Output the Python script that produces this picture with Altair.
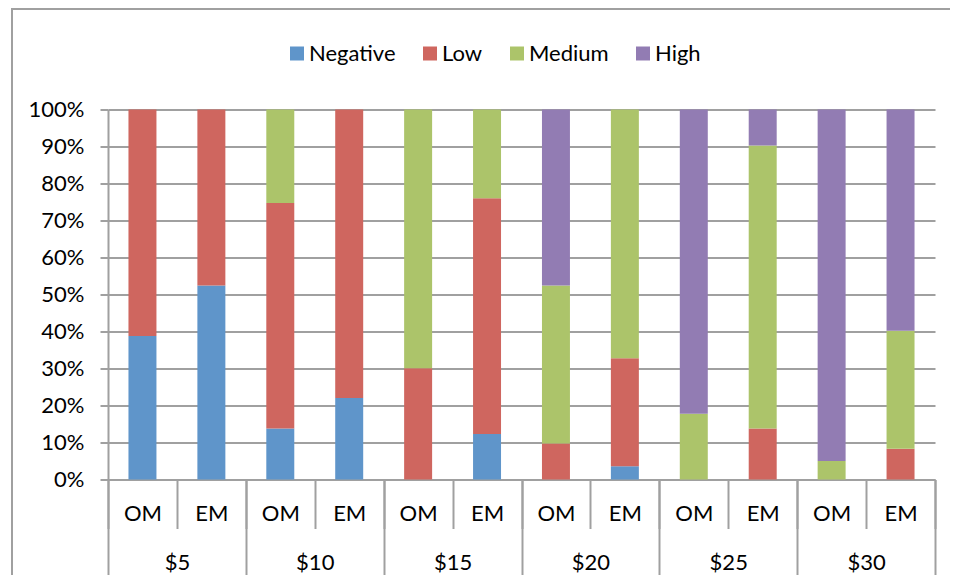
import altair as alt
import pandas as pd

groups = ["$5", "$10", "$15", "$20", "$25", "$30"]
methods = ["OM", "EM"]
levels = ["Negative", "Low", "Medium", "High"]
colors = ["#5F95CA", "#CF665F", "#ACC46A", "#927CB3"]

negative = [38.8, 52.4, 13.8, 22.0, 0, 12.3, 0, 3.6, 0, 0, 0, 0]
low = [61.2, 47.6, 60.9, 78.0, 30.1, 63.7, 9.7, 29.2, 0, 13.8, 0, 8.3]
medium = [0, 0, 25.3, 0, 69.9, 24.0, 42.7, 67.2, 17.8, 76.5, 5.0, 31.9]
high = [0, 0, 0, 0, 0, 0, 47.6, 0, 82.2, 9.7, 95.0, 59.8]

series = {"Negative": negative, "Low": low, "Medium": medium, "High": high}
keys = [f"{g} {m}" for g in groups for m in methods]

rows = []
for li, lev in enumerate(levels):
    for i, k in enumerate(keys):
        rows.append({"key": k, "group": groups[i // 2], "method": methods[i % 2],
                     "level": lev, "order": li, "value": series[lev][i]})
df = pd.DataFrame(rows)

W, H = 827, 370
GRAY = "#a0a0a0"
FONT = "Lato"
FS = 22

bars = alt.Chart(df).mark_bar().encode(
    x=alt.X("key:N", sort=keys, axis=None,
            scale=alt.Scale(paddingInner=0.594, paddingOuter=0.297)),
    y=alt.Y("value:Q", stack="normalize",
            scale=alt.Scale(domain=[0, 1]),
            axis=alt.Axis(values=[i / 10 for i in range(11)], format=".0%", title=None,
                          grid=True, gridColor=GRAY, gridWidth=2,
                          domain=True, domainColor=GRAY, domainWidth=2,
                          ticks=True, tickColor=GRAY, tickWidth=2, tickSize=8,
                          labelPadding=16, labelFontSize=FS, labelFont=FONT,
                          labelColor="#000000")),
    color=alt.Color("level:N", sort=levels,
                    scale=alt.Scale(domain=levels, range=colors),
                    legend=alt.Legend(title=None, orient="none", direction="horizontal",
                                      legendX=178, legendY=-67, padding=0,
                                      symbolType="square", symbolSize=196,
                                      symbolStrokeWidth=0, labelFontSize=FS,
                                      labelFont=FONT, labelColor="#000000",
                                      labelOffset=1, columnPadding=23)),
    order=alt.Order("order:Q", sort="ascending"),
)

sub_axis = alt.Chart(df).mark_point(opacity=0).encode(
    x=alt.X("key:N", sort=keys,
            scale=alt.Scale(paddingInner=0, paddingOuter=0),
            axis=alt.Axis(orient="bottom", title=None, tickBand="extent",
                          labelExpr="split(datum.label, ' ')[1]",
                          domain=True, domainColor=GRAY, domainWidth=2,
                          ticks=True, tickColor=GRAY, tickWidth=2, tickSize=49,
                          labelBaseline="middle", labelPadding=-15, labelAngle=0,
                          labelFontSize=FS, labelFont=FONT, labelColor="#000000",
                          grid=False)),
)

grp_axis = alt.Chart(df).mark_point(opacity=0).encode(
    x=alt.X("group:N", sort=groups,
            scale=alt.Scale(paddingInner=0, paddingOuter=0),
            axis=alt.Axis(orient="bottom", title=None, tickBand="extent",
                          domain=False,
                          ticks=True, tickColor=GRAY, tickWidth=2, tickSize=96,
                          labelBaseline="middle", labelPadding=-13, labelAngle=0,
                          labelFontSize=FS, labelFont=FONT, labelColor="#000000",
                          grid=False)),
)

frame = alt.Chart(pd.DataFrame({"a": [0]})).mark_rect(
    fill=None, stroke=GRAY, strokeWidth=2
).encode(
    x=alt.value(-96), x2=alt.value(W + 60),
    y=alt.value(-100.5), y2=alt.value(H + 200),
)

chart = alt.layer(frame, bars, sub_axis, grp_axis).resolve_scale(
    x="independent"
).properties(
    width=W, height=H,
    autosize=alt.AutoSizeParams(type="none"),
    padding={"left": 100, "top": 101.5, "right": 15, "bottom": 95.5},
).configure_view(stroke=None)

chart.save("out.html", embed_options={"renderer": "svg", "actions": False})
